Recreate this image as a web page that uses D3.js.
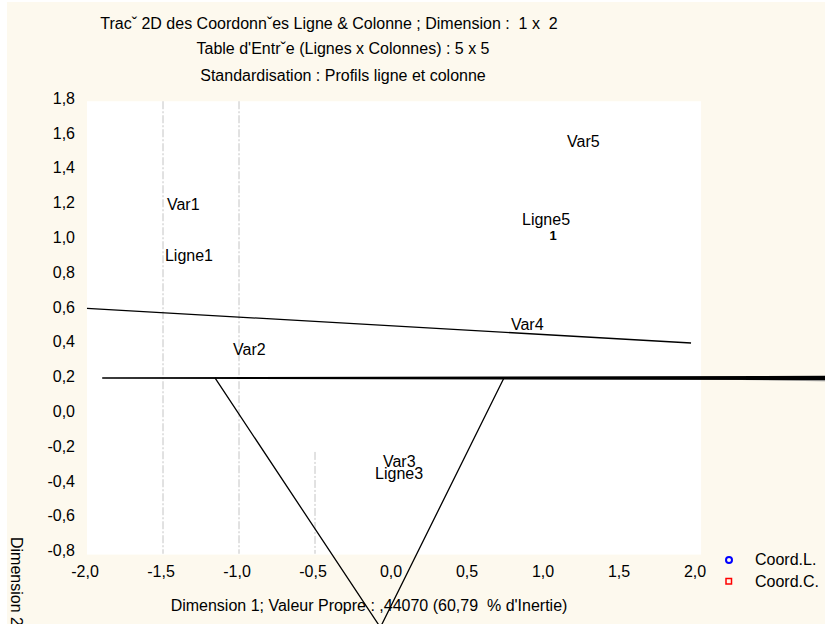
<!DOCTYPE html>
<html>
<head>
<meta charset="utf-8">
<script src="https://cdn.jsdelivr.net/npm/d3@7"></script>
<style>
  html, body { margin: 0; padding: 0; background: #ffffff; }
  svg { display: block; }
  text { font-family: "Liberation Sans", Arial, sans-serif; fill: #000; }
</style>
</head>
<body>
<svg id="chart" width="825" height="624"></svg>
<script>
// Titles
const titleLines = [
  "Tracˇ 2D des Coordonnˇes Ligne & Colonne ; Dimension :  1 x  2",
  "Table d'Entrˇe (Lignes x Colonnes) : 5 x 5",
  "Standardisation : Profils ligne et colonne"
];
const xTitle = "Dimension 1; Valeur Propre : ,44070 (60,79  % d'Inertie)";
const yTitle = "Dimension 2";

// Axis ticks
const xTicks = [-2.0, -1.5, -1.0, -0.5, 0.0, 0.5, 1.0, 1.5, 2.0];
const yTicks = [1.8, 1.6, 1.4, 1.2, 1.0, 0.8, 0.6, 0.4, 0.2, 0.0, -0.2, -0.4, -0.6, -0.8];

// Point labels (row and column coordinates)
const labelNames = ["Var1", "Ligne1", "Var2", "Var3", "Ligne3", "Var4", "Var5", "Ligne5"];
const labelX = [-1.474, -1.487, -1.039, -0.053, -0.105, 0.789, 1.158, 0.862];
const labelY = [1.189, 0.895, 0.355, -0.289, -0.357, 0.499, 1.551, 1.102];

// Lone marker near Ligne5
const markerX = [1.066];
const markerY = [1.010];

// Solid line segments
const slopeLineX = [-2.0, 1.974];
const slopeLineY = [0.60, 0.401];
const flatLineX = [-1.90, 2.86];
const flatLineY = [0.20, 0.20];
const vLineX = [-1.158, -0.070, 0.743];
const vLineY = [0.20, -1.233, 0.20];

// Vertical dash-dot guides: x, y from, y to
const guideX = [-1.5, -1.0, -0.5];
const guideY0 = [1.79, 1.79, -0.225];
const guideY1 = [-0.81, -0.81, -0.81];

// Legend
const legendNames = ["Coord.L.", "Coord.C."];
const legendColors = ["#0000ff", "#ff0000"];

const FS = "16px";
const svg = d3.select("#chart");
const x = d3.scaleLinear().domain([-2, 2]).range([87, 695]);
const y = d3.scaleLinear().domain([-0.8, 1.8]).range([552, 99.5]);
const fmt = v => d3.format(".1f")(v).replace(".", ",").replace("−", "-");

// Background panel
svg.append("rect").attr("x", 7).attr("y", 2).attr("width", 818).attr("height", 622).attr("fill", "#fdf9ee");

// Plot area
svg.append("rect")
  .attr("x", x(-2)).attr("y", y(1.79))
  .attr("width", x(2.04) - x(-2)).attr("height", y(-0.815) - y(1.79))
  .attr("fill", "#ffffff");

// Titles
const titleCx = [329, 343, 343];
const titleCy = [25, 50, 77];
svg.selectAll("text.title").data(titleLines).join("text")
  .attr("class", "title")
  .attr("x", (d, i) => titleCx[i]).attr("y", (d, i) => titleCy[i])
  .attr("text-anchor", "middle").attr("dominant-baseline", "middle")
  .style("font-size", FS).style("white-space", "pre")
  .text(d => d);

// Guides
svg.selectAll("line.guide").data(guideX).join("line")
  .attr("class", "guide")
  .attr("x1", d => x(d)).attr("x2", d => x(d))
  .attr("y1", (d, i) => y(guideY0[i])).attr("y2", (d, i) => y(guideY1[i]))
  .attr("stroke", "#c4c4c4").attr("stroke-width", 1)
  .attr("stroke-dasharray", "8,2,2,2");

// Axis tick labels
svg.selectAll("text.xt").data(xTicks).join("text")
  .attr("class", "xt")
  .attr("x", d => x(d) - (d < 0 ? 2 : 0)).attr("y", 573)
  .attr("text-anchor", "middle").attr("dominant-baseline", "middle")
  .style("font-size", FS)
  .text(fmt);

svg.selectAll("text.yt").data(yTicks).join("text")
  .attr("class", "yt")
  .attr("x", 75).attr("y", d => y(d))
  .attr("text-anchor", "end").attr("dominant-baseline", "middle")
  .style("font-size", FS)
  .text(fmt);

// Axis titles
svg.append("text")
  .attr("x", 369).attr("y", 607)
  .attr("text-anchor", "middle").attr("dominant-baseline", "middle")
  .style("font-size", FS).style("white-space", "pre")
  .text(xTitle);

svg.append("text")
  .attr("transform", "translate(11,537) rotate(90)")
  .attr("text-anchor", "start")
  .style("font-size", FS)
  .text(yTitle);

// Lines
const line = d3.line().x(d => x(d[0])).y(d => y(d[1]));

svg.append("path")
  .attr("d", line(d3.zip(slopeLineX, slopeLineY)))
  .attr("fill", "none").attr("stroke", "#000").attr("stroke-width", 1.3);

// Horizontal line that thickens to the right
const fy = y(flatLineY[0]);
const fx0 = x(flatLineX[0]), fx1 = x(flatLineX[1]);
svg.append("path")
  .attr("d", `M${fx0},${fy - 0.7}L${fx1},${fy - 2.2}L${fx1},${fy + 2.2}L${fx0},${fy + 0.7}Z`)
  .attr("fill", "#000");
svg.append("path")
  .attr("d", `M${x(2.3)},${fy + 2.2}L${fx1},${fy + 2.2}L${fx1},${fy + 3.4}Z`)
  .attr("fill", "#888");

svg.append("path")
  .attr("d", line(d3.zip(vLineX, vLineY)))
  .attr("fill", "none").attr("stroke", "#000").attr("stroke-width", 1.3)
  .attr("stroke-linejoin", "miter");

// Point labels
svg.selectAll("text.lbl").data(labelNames).join("text")
  .attr("class", "lbl")
  .attr("x", (d, i) => x(labelX[i])).attr("y", (d, i) => y(labelY[i]))
  .attr("dominant-baseline", "middle")
  .style("font-size", FS)
  .text(d => d);

// Marker
svg.selectAll("text.mk").data(markerX).join("text")
  .attr("class", "mk")
  .attr("x", d => x(d)).attr("y", (d, i) => y(markerY[i]))
  .attr("text-anchor", "middle").attr("dominant-baseline", "middle")
  .style("font-size", "13px").style("font-weight", "bold")
  .text("1");

// Legend
const lg = svg.append("g");
lg.append("circle").attr("cx", 729).attr("cy", 560).attr("r", 3)
  .attr("fill", "none").attr("stroke", legendColors[0]).attr("stroke-width", 2);
lg.append("rect").attr("x", 726).attr("y", 578.5).attr("width", 5.5).attr("height", 5.5)
  .attr("fill", "none").attr("stroke", legendColors[1]).attr("stroke-width", 1.5);
lg.selectAll("text").data(legendNames).join("text")
  .attr("x", 755).attr("y", (d, i) => 561 + i * 22)
  .attr("dominant-baseline", "middle")
  .style("font-size", FS)
  .text(d => d);
</script>
</body>
</html>
